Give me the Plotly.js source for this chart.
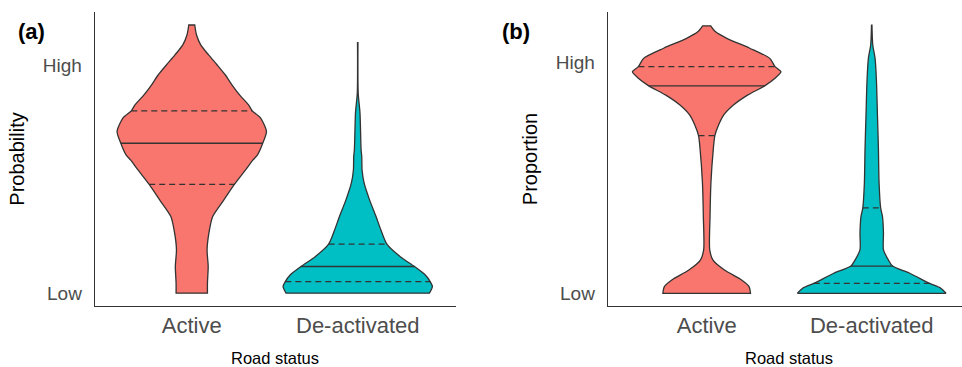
<!DOCTYPE html>
<html><head><meta charset="utf-8">
<script src="https://cdn.plot.ly/plotly-3.0.1.min.js"></script>
<style>html,body{margin:0;padding:0;background:#fff}</style>
</head><body><div id="chart" style="width:962px;height:367px"></div>
<script>
// ---------- data ----------
const categories = ['Active', 'De-activated'];
const yTickValues = [0, 1];
const yTickLabels = ['Low', 'High'];
const panelTitles = ['Probability', 'Proportion'];
const panelLetters = ['(a)', '(b)'];
const xTitle = 'Road status';

// Panel (a): Probability — density profiles (level, relative half-width)
const aActiveLevel   = [0, 0.045, 0.117, 0.190, 0.264, 0.336, 0.409, 0.477, 0.540, 0.584, 0.606, 0.657, 0.708, 0.768, 0.799, 0.825, 0.869, 0.912, 0.956, 1.000, 1.044, 1.088, 1.131, 1.175];
const aActiveDensity = [0.21, 0.21, 0.22, 0.205, 0.23, 0.28, 0.43, 0.57, 0.72, 0.82, 0.88, 0.95, 1.00, 0.92, 0.81, 0.76, 0.64, 0.54, 0.45, 0.34, 0.225, 0.12, 0.064, 0.04];
const aActiveQuartiles = [0.477, 0.657, 0.799];

const aDeactLevel   = [0, 0.029, 0.051, 0.080, 0.117, 0.160, 0.215, 0.277, 0.336, 0.409, 0.483, 0.540, 0.598, 0.628, 0.790, 0.877, 1.098];
const aDeactDensity = [0.96, 1.00, 0.97, 0.905, 0.76, 0.57, 0.39, 0.31, 0.245, 0.158, 0.085, 0.058, 0.054, 0.045, 0.03, 0.006, 0.003];
const aDeactQuartiles = [0.051, 0.117, 0.215];

// Panel (b): Proportion
const bActiveLevel   = [0, 0.029, 0.058, 0.101, 0.144, 0.188, 0.332, 0.478, 0.628, 0.683, 0.729, 0.773, 0.816, 0.859, 0.899, 0.932, 0.960, 0.982, 1.018, 1.062, 1.105, 1.133, 1.159];
const bActiveDensity = [0.59, 0.57, 0.47, 0.24, 0.085, 0.041, 0.045, 0.057, 0.09, 0.11, 0.16, 0.23, 0.36, 0.55, 0.78, 0.92, 1.00, 0.92, 0.85, 0.58, 0.27, 0.12, 0.054];
const bActiveQuartiles = [0.683, 0.899, 0.982];

const bDeactLevel   = [0, 0.022, 0.043, 0.087, 0.118, 0.144, 0.188, 0.260, 0.332, 0.370, 0.477, 0.628, 0.773, 0.917, 1.018, 1.076, 1.162];
const bDeactDensity = [1.00, 0.93, 0.78, 0.51, 0.28, 0.225, 0.158, 0.158, 0.145, 0.12, 0.099, 0.09, 0.077, 0.064, 0.045, 0.014, 0.003];
const bDeactQuartiles = [0.043, 0.118, 0.370];

// ---------- styling ----------
const fillColors = ['#F8766D', '#00BFC4'];
const outline = '#333333';
const halfWidth = 0.45;
const FONT = 'Liberation Sans, Arial, sans-serif';

function interp(levels, dens, q) {
  for (let i = 0; i < levels.length - 1; i++) {
    if (q >= levels[i] && q <= levels[i + 1]) {
      const t = (q - levels[i]) / (levels[i + 1] - levels[i]);
      return dens[i] + t * (dens[i + 1] - dens[i]);
    }
  }
  return 0;
}

function violin(levels, dens, quarts, pos, color, xa, ya) {
  const xs = [], ys = [];
  const n = levels.length;
  // right side, bottom -> top (end points doubled to keep the flat ends' corners crisp)
  for (let i = 0; i < n; i++) {
    xs.push(pos + halfWidth * dens[i]); ys.push(levels[i]);
    if (i === 0 || i === n - 1) { xs.push(pos + halfWidth * dens[i]); ys.push(levels[i]); }
  }
  // left side, top -> bottom
  for (let i = n - 1; i >= 0; i--) {
    xs.push(pos - halfWidth * dens[i]); ys.push(levels[i]);
    if (i === 0 || i === n - 1) { xs.push(pos - halfWidth * dens[i]); ys.push(levels[i]); }
  }
  xs.push(xs[0]); ys.push(ys[0]);
  const out = [{
    type: 'scatter', mode: 'lines', x: xs, y: ys, xaxis: xa, yaxis: ya,
    fill: 'toself', fillcolor: color,
    line: {color: outline, width: 1.3, shape: 'spline', smoothing: 0.7, simplify: false},
    hoverinfo: 'skip', showlegend: false
  }];
  quarts.forEach((q, k) => {
    const w = halfWidth * interp(levels, dens, q);
    out.push({
      type: 'scatter', mode: 'lines', x: [pos - w, pos + w], y: [q, q], xaxis: xa, yaxis: ya,
      line: {color: outline, width: 1.3, dash: k === 1 ? 'solid' : '6px,4px'},
      hoverinfo: 'skip', showlegend: false
    });
  });
  return out;
}

const traces = [].concat(
  violin(aActiveLevel, aActiveDensity, aActiveQuartiles, 1, fillColors[0], 'x', 'y'),
  violin(aDeactLevel, aDeactDensity, aDeactQuartiles, 2, fillColors[1], 'x', 'y'),
  violin(bActiveLevel, bActiveDensity, bActiveQuartiles, 1, fillColors[0], 'x2', 'y2'),
  violin(bDeactLevel, bDeactDensity, bDeactQuartiles, 2, fillColors[1], 'x2', 'y2')
);

function xAxis(domain, range, anchor) {
  return {
    domain: domain, range: range, anchor: anchor,
    tickmode: 'array', tickvals: [1, 2], ticktext: categories,
    ticks: '', showgrid: false, zeroline: false,
    showline: true, linecolor: outline, linewidth: 1.3,
    tickfont: {family: FONT, size: 22, color: '#4D4D4D'},
    ticklabelstandoff: -1
  };
}
function yAxis(domain, range, anchor, title) {
  return {
    domain: domain, range: range, anchor: anchor,
    tickmode: 'array', tickvals: yTickValues, ticktext: yTickLabels,
    ticks: '', showgrid: false, zeroline: false,
    showline: true, linecolor: outline, linewidth: 1.3,
    tickfont: {family: FONT, size: 19, color: '#4D4D4D'},
    ticklabelstandoff: 8,
    title: {text: title, font: {family: FONT, size: 20, color: '#000'}, standoff: 12}
  };
}

function label(text, px, py, size, bold) {
  return {text: bold ? '<b>' + text + '</b>' : text, xref: 'paper', yref: 'paper',
    x: px / 962, y: 1 - py / 367, xanchor: 'center', yanchor: 'middle', showarrow: false,
    font: {family: FONT, size: size, color: '#000'}};
}

const yDom = [1 - 306 / 367, 1 - 12 / 367];
const layout = {
  width: 962, height: 367,
  margin: {l: 0, r: 0, t: 0, b: 0},
  paper_bgcolor: '#fff', plot_bgcolor: '#fff',
  showlegend: false,
  xaxis: xAxis([95 / 962, 456 / 962], [0.417, 2.592], 'y'),
  yaxis: yAxis(yDom, [-0.056, 1.232], 'x', panelTitles[0]),
  xaxis2: xAxis([608 / 962, 1], [0.402, 2.547], 'y2'),
  yaxis2: yAxis(yDom, [-0.055, 1.219], 'x2', panelTitles[1]),
  annotations: [
    label(panelLetters[0], 31, 32, 22, true),
    label(panelLetters[1], 516, 32, 22, true),
    label(xTitle, 275, 357.5, 16.5, false),
    label(xTitle, 789, 357.5, 16.5, false)
  ]
};

Plotly.newPlot('chart', traces, layout, {displayModeBar: false, staticPlot: true});
</script></body></html>
